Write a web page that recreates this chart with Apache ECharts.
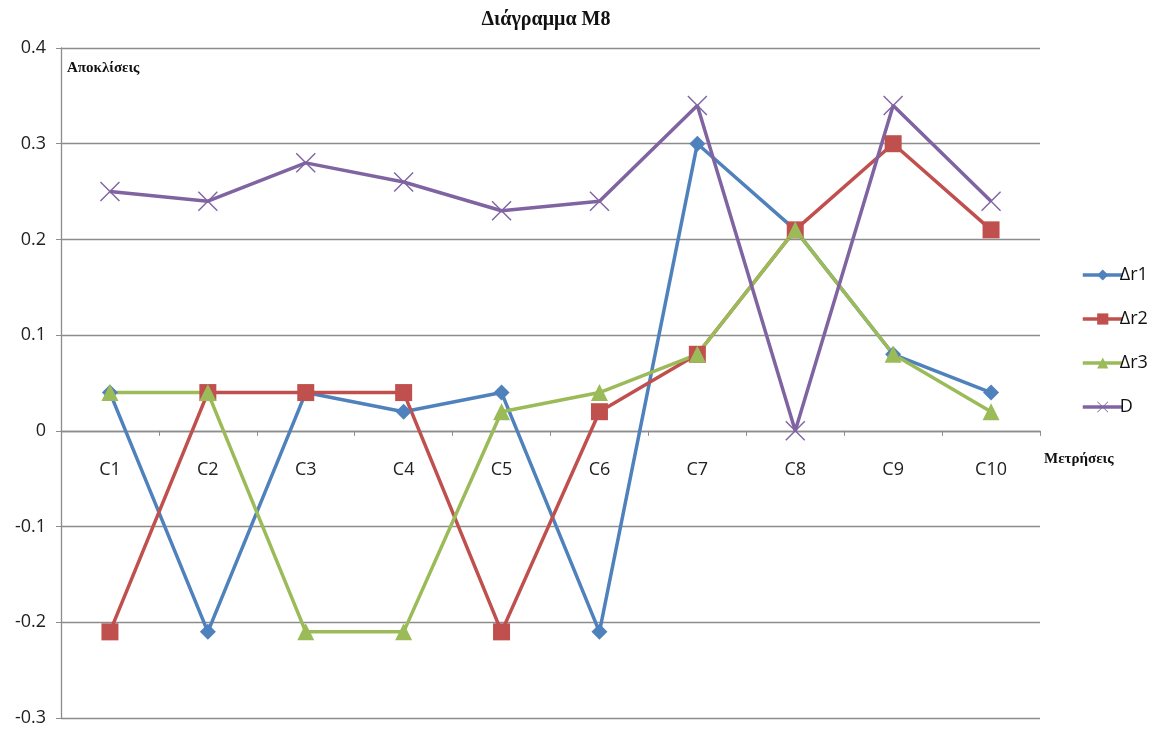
<!DOCTYPE html>
<html>
<head>
<meta charset="utf-8">
<script src="https://cdn.jsdelivr.net/npm/echarts@6/dist/echarts.min.js"></script>
<style>
  html, body { margin: 0; padding: 0; background: #fff; }
  #chart { width: 1156px; height: 731px; }
</style>
</head>
<body>
<div id="chart"></div>
<script>
// Deviation measurements per point
const categories = ['C1', 'C2', 'C3', 'C4', 'C5', 'C6', 'C7', 'C8', 'C9', 'C10'];
const dr1 = [0.04, -0.21, 0.04, 0.02, 0.04, -0.21, 0.30, 0.21, 0.08, 0.04];
const dr2 = [-0.21, 0.04, 0.04, 0.04, -0.21, 0.02, 0.08, 0.21, 0.30, 0.21];
const dr3 = [0.04, 0.04, -0.21, -0.21, 0.02, 0.04, 0.08, 0.21, 0.08, 0.02];
const dD  = [0.25, 0.24, 0.28, 0.26, 0.23, 0.24, 0.34, 0, 0.34, 0.24];
const seriesNames = ['Δr1', 'Δr2', 'Δr3', 'D'];
const yMin = -0.3;
const yMax = 0.4;

const crossSymbol = 'path://M0,0.5 L0.5,0 L5,4.5 L9.5,0 L10,0.5 L5.5,5 L10,9.5 L9.5,10 L5,5.5 L0.5,10 L0,9.5 L4.5,5 Z';

const gridTop = 48, gridBottom = 13, chartHeight = 731;
const plotHeight = chartHeight - gridTop - gridBottom;
// lift the category axis from the bottom edge up to the zero line
const zeroOffset = -plotHeight * (0 - yMin) / (yMax - yMin);

const chart = echarts.init(document.getElementById('chart'));

function lineSeries(name, data, color, symbol, size) {
  return {
    name: name,
    type: 'line',
    data: data,
    symbol: symbol,
    symbolSize: size,
    showAllSymbol: true,
    color: color,
    lineStyle: { color: color, width: 3.5 },
    itemStyle: { color: color },
    emphasis: { disabled: true },
    animation: false,
    z: 3
  };
}

chart.setOption({
  animation: false,
  backgroundColor: '#ffffff',
  title: {
    text: 'Διάγραμμα M8',
    left: 541,
    top: 5,
    textAlign: 'center',
    textStyle: { fontFamily: 'Liberation Serif', fontWeight: 'bold', fontSize: 20, color: '#111' }
  },
  grid: { left: 61, right: 116, top: gridTop, bottom: gridBottom, containLabel: false, outerBoundsMode: 'none' },
  legend: {
    orient: 'vertical',
    left: 1076,
    top: 261,
    itemGap: 26,
    itemWidth: 40,
    itemHeight: 14,
    data: seriesNames,
    lineStyle: { width: 3.5 },
    textStyle: { fontFamily: 'Open Sans', fontSize: 18, color: '#111', padding: [0, 0, 0, -8] }
  },
  xAxis: {
    type: 'category',
    data: categories,
    boundaryGap: true,
    position: 'bottom',
    offset: zeroOffset,
    axisLine: { onZero: false, lineStyle: { color: '#8c8c8c', width: 1.3 } },
    axisTick: { show: true, inside: false, length: 5, alignWithLabel: false, lineStyle: { color: '#8c8c8c' } },
    axisLabel: { margin: 30, fontFamily: 'Open Sans', fontSize: 18, color: '#222' },
    splitLine: { show: false }
  },
  yAxis: {
    type: 'value',
    min: yMin,
    max: yMax,
    interval: 0.1,
    axisLine: { show: true, lineStyle: { color: '#8c8c8c', width: 1.3 } },
    axisTick: { show: true, length: 5, lineStyle: { color: '#8c8c8c' } },
    axisLabel: {
      margin: 15,
      fontFamily: 'Open Sans',
      fontSize: 18,
      color: '#222',
      formatter: function (v) {
        const r = Math.round(v * 10) / 10;
        return r === 0 ? '0' : r.toFixed(1);
      }
    },
    splitLine: { show: true, lineStyle: { color: '#8c8c8c', width: 1.3 } }
  },
  graphic: [
    {
      type: 'text',
      left: 67,
      top: 61,
      style: { text: 'Αποκλίσεις', font: 'bold 15px "Liberation Serif"', fill: '#111' }
    },
    {
      type: 'text',
      left: 1044,
      top: 452,
      style: { text: 'Μετρήσεις', font: 'bold 15px "Liberation Serif"', fill: '#111' }
    }
  ],
  series: [
    lineSeries('Δr1', dr1, '#4f81bd', 'diamond', 16),
    lineSeries('Δr2', dr2, '#c0504d', 'rect', 17),
    lineSeries('Δr3', dr3, '#9bbb59', 'triangle', 17),
    lineSeries('D', dD, '#8064a2', crossSymbol, 20)
  ]
});
</script>
</body>
</html>
